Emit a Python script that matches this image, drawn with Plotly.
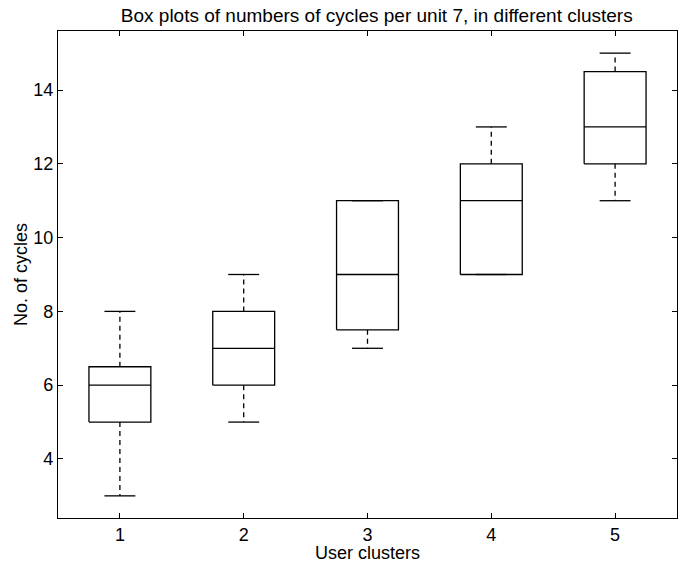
import plotly.graph_objects as go

# ---- data ----
clusters = [1, 2, 3, 4, 5]
lower_whisker = [3, 5, 7, 9, 11]
q1 = [5, 6, 7.5, 9, 12]
median = [6, 7, 9, 11, 13]
q3 = [6.5, 8, 11, 12, 14.5]
upper_whisker = [8, 9, 11, 13, 15]

title = "Box plots of numbers of cycles per unit 7, in different clusters"
x_title = "User clusters"
y_title = "No. of cycles"
y_ticks = [4, 6, 8, 10, 12, 14]

# ---- style ----
BOX_HALF = 0.25
CAP_HALF = 0.125
LW = 1.3
FONT = "Liberation Sans, Arial, Helvetica, sans-serif"

box_x, box_y = [], []
med_x, med_y = [], []
wh_x, wh_y = [], []
cap_x, cap_y = [], []
for c, lo, a, m, b, hi in zip(clusters, lower_whisker, q1, median, q3, upper_whisker):
    box_x += [c - BOX_HALF, c + BOX_HALF, c + BOX_HALF, c - BOX_HALF, c - BOX_HALF, None]
    box_y += [a, a, b, b, a, None]
    med_x += [c - BOX_HALF, c + BOX_HALF, None]
    med_y += [m, m, None]
    wh_x += [c, c, None, c, c, None]
    wh_y += [b, hi, None, a, lo, None]
    cap_x += [c - CAP_HALF, c + CAP_HALF, None, c - CAP_HALF, c + CAP_HALF, None]
    cap_y += [hi, hi, None, lo, lo, None]

fig = go.Figure()
fig.add_trace(go.Scatter(x=wh_x, y=wh_y, mode="lines",
                         line=dict(color="black", width=LW, dash="5px,4px"),
                         hoverinfo="skip", showlegend=False))
fig.add_trace(go.Scatter(x=cap_x, y=cap_y, mode="lines",
                         line=dict(color="black", width=LW),
                         hoverinfo="skip", showlegend=False))
fig.add_trace(go.Scatter(x=box_x, y=box_y, mode="lines",
                         line=dict(color="black", width=LW),
                         hoverinfo="skip", showlegend=False))
fig.add_trace(go.Scatter(x=med_x, y=med_y, mode="lines",
                         line=dict(color="black", width=LW),
                         hoverinfo="skip", showlegend=False))

axis_common = dict(
    showline=True, linecolor="black", linewidth=1.3, mirror="ticks",
    ticks="inside", ticklen=5, tickcolor="black", tickwidth=1,
    showgrid=False, zeroline=False, automargin=False,
    tickfont=dict(family=FONT, size=18, color="black"),
)

fig.update_layout(
    width=690, height=563,
    margin=dict(l=58, r=13, t=31, b=45),
    paper_bgcolor="white", plot_bgcolor="white",
    title=dict(text=title, x=0.546, xanchor="center", y=0.973, yanchor="middle",
               font=dict(family=FONT, size=19, color="black")),
    xaxis=dict(range=[0.5, 5.5], tickvals=clusters, ticktext=[str(c) for c in clusters],
               title=dict(text=x_title, standoff=0,
                          font=dict(family=FONT, size=18, color="black")),
               **axis_common),
    yaxis=dict(range=[2.4, 15.6], tickvals=y_ticks, ticktext=[str(t) for t in y_ticks],
               title=dict(text=y_title, standoff=0,
                          font=dict(family=FONT, size=18, color="black")),
               **axis_common),
)

fig.write_html("out.html")
